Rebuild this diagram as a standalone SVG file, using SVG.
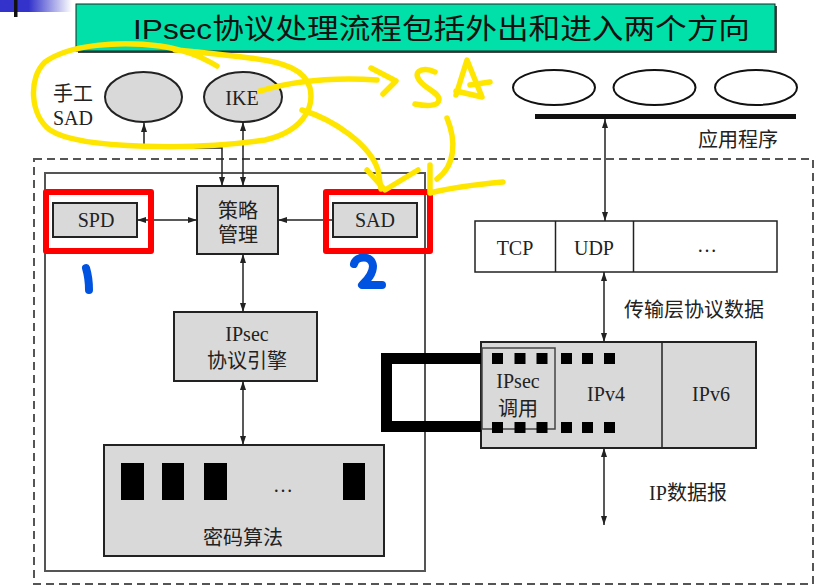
<svg xmlns="http://www.w3.org/2000/svg" width="818" height="588" viewBox="0 0 818 588">
<style>
.t{font-family:"Liberation Serif","Noto Sans CJK SC",serif;font-size:20px;fill:#222;text-anchor:middle}
.box{fill:#d9d9d9;stroke:#222;stroke-width:2}
.ln{fill:none;stroke:#222;stroke-width:1.5}
.yel{fill:none;stroke:#FFE600;stroke-width:5.5;stroke-linecap:round;stroke-linejoin:round}
.red{fill:none;stroke:#FF0000;stroke-width:6;stroke-linejoin:round}
.blue{fill:none;stroke:#0052E0;stroke-width:8;stroke-linecap:round;stroke-linejoin:round}
.sq{fill:#000}
</style>
<defs>
<linearGradient id="g1" x1="0" y1="0" x2="1" y2="0">
<stop offset="0" stop-color="#3333CC"/>
<stop offset="0.4" stop-color="#3333CC"/>
<stop offset="1" stop-color="#ffffff"/>
</linearGradient>
<marker id="ah" viewBox="0 0 9 6" refX="9" refY="3" markerWidth="9" markerHeight="6" markerUnits="userSpaceOnUse" orient="auto-start-reverse">
<path d="M0,0 L9,3 L0,6 z" fill="#222"/>
</marker>
</defs>
<rect width="818" height="588" fill="#ffffff"/>
<g id="corner">
<rect x="0" y="0" width="72" height="12" fill="url(#g1)"/>
<rect x="14" y="0" width="3.5" height="17" fill="#111"/>
</g>
<g id="title">
<rect x="78" y="6" width="699" height="47" fill="#444"/>
<rect x="76" y="4" width="699" height="47" fill="#00E0A8" stroke="#222" stroke-width="1"/>
<text x="133" y="39" font-family="'Liberation Sans','Noto Sans CJK SC',sans-serif" font-size="28.5" fill="#111" textLength="617" lengthAdjust="spacingAndGlyphs">IPsec协议处理流程包括外出和进入两个方向</text>
</g>
<g id="frames">
<rect x="34" y="159" width="779" height="425" fill="none" stroke="#555" stroke-width="2" stroke-dasharray="8 5"/>
<rect x="45" y="173" width="380" height="398" fill="none" stroke="#555" stroke-width="2"/>
</g>
<g id="manual-sad">
<ellipse cx="143.5" cy="97" rx="38.5" ry="25" class="box"/>
<text class="t" x="73" y="101">手工</text>
<text class="t" x="73" y="125">SAD</text>
</g>
<g id="ike">
<ellipse cx="243" cy="97" rx="39" ry="25" class="box"/>
<text class="t" x="242" y="105">IKE</text>
</g>
<g id="policy">
<rect x="197" y="186" width="81" height="68" class="box"/>
<text class="t" x="238" y="218">策略</text>
<text class="t" x="238" y="242">管理</text>
</g>
<g id="spd">
<rect x="53" y="203" width="84" height="34" class="box"/>
<text class="t" x="96" y="227">SPD</text>
</g>
<g id="sad">
<rect x="333" y="203" width="84" height="34" class="box"/>
<text class="t" x="375" y="227">SAD</text>
</g>
<g id="engine">
<rect x="174" y="312" width="143" height="69" class="box"/>
<text class="t" x="247" y="341">IPsec</text>
<text class="t" x="247" y="368">协议引擎</text>
</g>
<g id="crypto">
<rect x="104" y="445" width="280" height="111" class="box"/>
<rect x="121" y="463" width="23" height="37" class="sq"/>
<rect x="162" y="463" width="22" height="37" class="sq"/>
<rect x="204" y="463" width="23" height="37" class="sq"/>
<rect x="343" y="463" width="22" height="37" class="sq"/>
<text class="t" x="283" y="492">…</text>
<text class="t" x="243" y="545">密码算法</text>
</g>
<g id="apps">
<ellipse cx="554" cy="87.5" rx="41" ry="17.5" fill="#fff" stroke="#111" stroke-width="2"/>
<ellipse cx="654.5" cy="87.5" rx="41" ry="17.5" fill="#fff" stroke="#111" stroke-width="2"/>
<ellipse cx="756" cy="87.5" rx="41" ry="17.5" fill="#fff" stroke="#111" stroke-width="2"/>
<rect x="535" y="114" width="261" height="5" fill="#111"/>
<text class="t" x="738" y="147">应用程序</text>
</g>
<g id="transport">
<rect x="475" y="221" width="302" height="51" fill="#fff" stroke="#222" stroke-width="1.5"/>
<line x1="555.5" y1="221" x2="555.5" y2="272" class="ln"/>
<line x1="633.5" y1="221" x2="633.5" y2="272" class="ln"/>
<text class="t" x="515" y="255">TCP</text>
<text class="t" x="594" y="255">UDP</text>
<text class="t" x="707" y="252">…</text>
<text class="t" x="694" y="317">传输层协议数据</text>
</g>
<g id="ip">
<rect x="481" y="342" width="275" height="106" class="box"/>
<line x1="662" y1="342" x2="662" y2="448" stroke="#222" stroke-width="1.5"/>
<rect x="482" y="348" width="73" height="81" fill="none" stroke="#444" stroke-width="1.5"/>
<path d="M481 358.5 H386.5 V426.5 H481" fill="none" stroke="#000" stroke-width="11"/>
<rect x="492" y="353" width="11" height="11" class="sq"/>
<rect x="514.5" y="353" width="11" height="11" class="sq"/>
<rect x="536.5" y="353" width="11" height="11" class="sq"/>
<rect x="561" y="353" width="11" height="11" class="sq"/>
<rect x="582" y="353" width="11" height="11" class="sq"/>
<rect x="604" y="353" width="11" height="11" class="sq"/>
<rect x="492" y="422" width="11" height="11" class="sq"/>
<rect x="514.5" y="422" width="11" height="11" class="sq"/>
<rect x="536.5" y="422" width="11" height="11" class="sq"/>
<rect x="561" y="422" width="11" height="11" class="sq"/>
<rect x="582" y="422" width="11" height="11" class="sq"/>
<rect x="604" y="422" width="11" height="11" class="sq"/>
<text class="t" x="518" y="388">IPsec</text>
<text class="t" x="518" y="416">调用</text>
<text class="t" x="606" y="401">IPv4</text>
<text class="t" x="711" y="401">IPv6</text>
<text class="t" x="688" y="500">IP数据报</text>
</g>
<g id="connectors">
<path class="ln" d="M144 123 V148 H222 V186" marker-start="url(#ah)" marker-end="url(#ah)"/>
<path class="ln" d="M243 122 V186" marker-start="url(#ah)" marker-end="url(#ah)"/>
<path class="ln" d="M137 220 H197" marker-start="url(#ah)" marker-end="url(#ah)"/>
<path class="ln" d="M333 220 H278" marker-end="url(#ah)"/>
<path class="ln" d="M243 254 V312" marker-start="url(#ah)" marker-end="url(#ah)"/>
<path class="ln" d="M243 381 V445" marker-start="url(#ah)" marker-end="url(#ah)"/>
<path class="ln" d="M605 119 V221" marker-start="url(#ah)" marker-end="url(#ah)"/>
<path class="ln" d="M604 272 V342" marker-start="url(#ah)" marker-end="url(#ah)"/>
<path class="ln" d="M604 448 V525" marker-start="url(#ah)" marker-end="url(#ah)"/>
</g>
<g id="annotations">
<rect x="46" y="192" width="105" height="59" class="red"/>
<rect x="326" y="192" width="104" height="59" class="red"/>
<path class="blue" d="M86 268 Q89 278 89 290"/>
<path class="blue" d="M354 264 C356 256 372 254 373 266 C373 275 366 281 362 285 L382 285"/>
<path class="yel" d="M217 66 C200 56 185 50 160 46 C120 41 70 44 45 62 C28 78 30 115 50 130 C80 150 200 150 265 140 C300 132 315 110 310 88 C305 70 285 62 250 58 C225 55 200 52 175 50"/>
<path class="yel" d="M260 91 C290 82 330 77 377 80"/>
<path class="yel" d="M371 68 L396 81 L383 94"/>
<path class="yel" d="M435 72 C425 67 414 70 418 78 C422 88 440 92 439 100 C438 107 425 106 415 104"/>
<path class="yel" d="M456 95 L467 60 L482 97 L456 91 M470 85 L490 82"/>
<path class="yel" d="M302 110 C335 120 370 145 378 170 L381 189"/>
<path class="yel" d="M367 170 L385 190 L418 170"/>
<path class="yel" d="M447 118 C456 140 456 165 437 179"/>
<path class="yel" d="M430 165 L430 193 C450 188 480 184 503 182"/>
</g>
</svg>
